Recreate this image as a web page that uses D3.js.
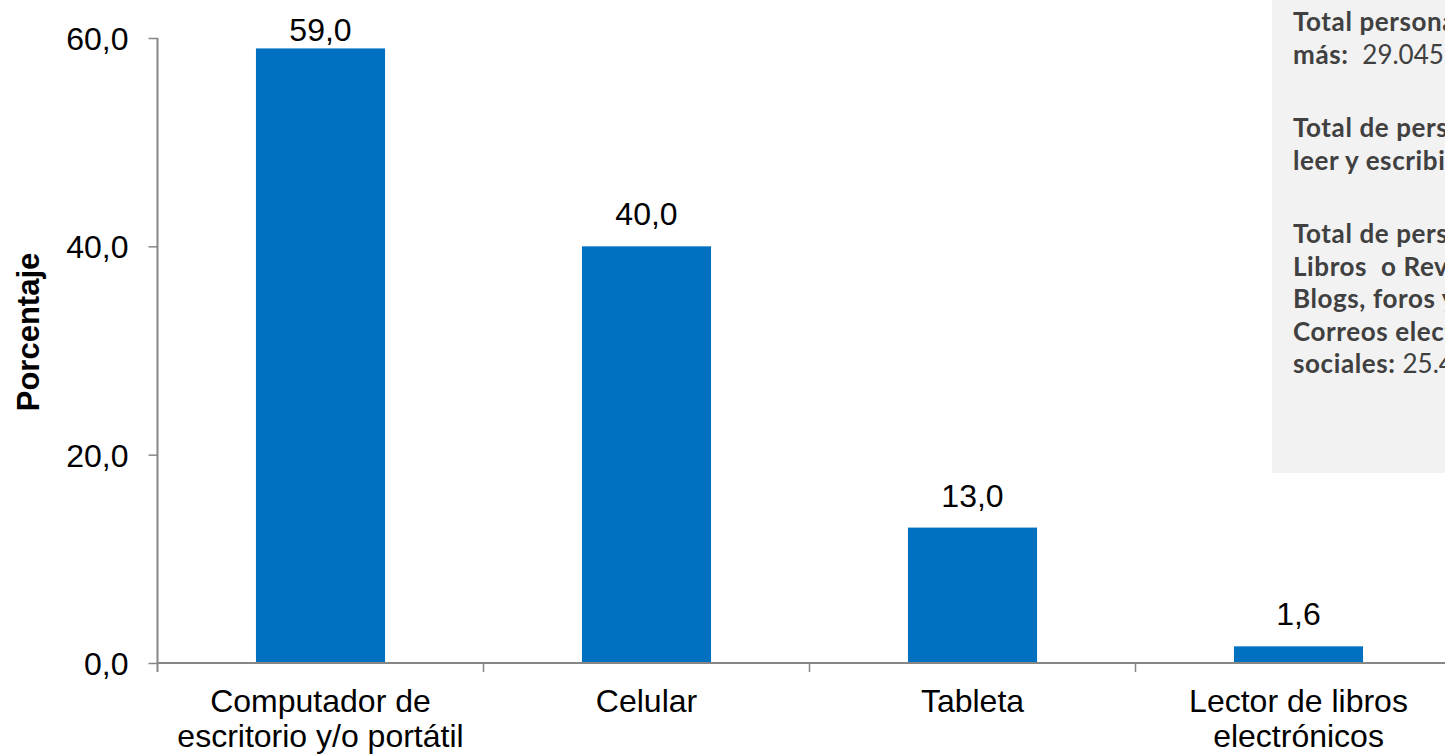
<!DOCTYPE html>
<html><head><meta charset="utf-8">
<script src="https://cdn.jsdelivr.net/npm/d3@7"></script>
<style>
html,body{margin:0;padding:0;background:#fff;overflow:hidden;}
svg{display:block;}
</style></head>
<body>
<script>
const categories = [["Computador de","escritorio y/o portátil"],["Celular"],["Tableta"],["Lector de libros","electrónicos"]];
const values = [59.0, 40.0, 13.0, 1.6];
const yTicks = [0, 20, 40, 60];
const yTitle = "Porcentaje";
const noteBlocks = [
  [[{b:"Total personas de 5 años y"}],[{b:"más:  "},{r:"29.045"}]],
  [[{b:"Total de personas que saben"}],[{b:"leer y escribir: "}]],
  [[{b:"Total de personas que leen"}],[{b:"Libros  o Revistas,"}],[{b:"Blogs, foros y"}],[{b:"Correos electrónicos o redes"}],[{b:"sociales: "},{r:"25.4"}]]
];

const W = 1445, H = 754;
const svg = d3.select("body").append("svg").attr("width", W).attr("height", H)
  .style("font-family", "'Liberation Sans', Arial, sans-serif");

const x0 = 157.5, step = 326;
const keys = categories.map(c => c.join(" "));
const x = d3.scaleBand().domain(keys).range([x0, x0 + step * keys.length]).paddingInner(0.604).paddingOuter(0.302);
const y = d3.scaleLinear().domain([0, 60]).range([663, 38]);
const fmt = v => d3.format(".1f")(v).replace(".", ",");
const axisColor = "#868686";
const fs = 32;

// note box
const box = svg.append("g");
box.append("rect").attr("x", 1272).attr("y", 0).attr("width", W - 1272).attr("height", 473).attr("fill", "#f2f2f2");
const noteFont = "Lato, 'Open Sans', sans-serif";
let baseY = 31;
const lh = 32.5, blockGap = 73.5;
noteBlocks.forEach((blk) => {
  blk.forEach((line, li) => {
    const t = box.append("text").attr("x", 1293).attr("y", baseY + li * lh).attr("font-family", noteFont)
      .attr("font-size", 26).attr("fill", "#404040").style("white-space", "pre");
    line.forEach(seg => {
      if (seg.b !== undefined) t.append("tspan").attr("font-weight", "bold").attr("letter-spacing", 0.6).text(seg.b);
      else t.append("tspan").attr("font-weight", "normal").text(seg.r);
    });
  });
  baseY += (blk.length - 1) * lh + blockGap;
});

// bars
svg.append("g").selectAll("rect").data(values).join("rect")
  .attr("x", (d, i) => x(keys[i]))
  .attr("y", d => y(d))
  .attr("width", x.bandwidth())
  .attr("height", d => y(0) - y(d))
  .attr("fill", "#0070c0");

// value labels
svg.append("g").selectAll("text").data(values).join("text")
  .attr("x", (d, i) => x(keys[i]) + x.bandwidth() / 2)
  .attr("y", d => Math.max(y(d) - 21, 41))
  .attr("text-anchor", "middle").attr("font-size", fs).attr("fill", "#000")
  .text(d => fmt(d));

// y axis
const yAxis = d3.axisLeft(y).tickValues(yTicks).tickFormat(fmt).tickSize(9).tickPadding(20);
const gy = svg.append("g").attr("transform", `translate(${x0},0)`).call(yAxis);
gy.select(".domain").remove();
gy.selectAll(".tick line").attr("stroke", axisColor).attr("stroke-width", 1.5);
gy.selectAll(".tick text").attr("font-size", fs).attr("fill", "#000")
  .attr("font-family", "'Liberation Sans', Arial, sans-serif").attr("dy", "0.36em");
svg.append("line").attr("x1", x0).attr("x2", x0).attr("y1", y(60)).attr("y2", y(0) + 9)
  .attr("stroke", axisColor).attr("stroke-width", 2);

// x axis
svg.append("line").attr("x1", x0).attr("x2", W).attr("y1", y(0)).attr("y2", y(0))
  .attr("stroke", axisColor).attr("stroke-width", 2);
const bounds = keys.map(k => x(k) + x.bandwidth() / 2 - x.step() / 2).slice(1);
svg.append("g").selectAll("line").data(bounds).join("line")
  .attr("x1", d => d).attr("x2", d => d).attr("y1", y(0)).attr("y2", y(0) + 9)
  .attr("stroke", axisColor).attr("stroke-width", 1.5);

// category labels
const cl = svg.append("g").selectAll("text").data(categories).join("text")
  .attr("x", (d, i) => x(keys[i]) + x.bandwidth() / 2)
  .attr("y", 712)
  .attr("text-anchor", "middle").attr("font-size", fs).attr("fill", "#000");
cl.selectAll("tspan").data(d => d).join("tspan")
  .attr("x", function () { return d3.select(this.parentNode).attr("x"); })
  .attr("dy", (d, i) => i === 0 ? 0 : 35)
  .text(d => d);

// y title
svg.append("text").attr("transform", "translate(39,332) rotate(-90)")
  .attr("text-anchor", "middle").attr("font-size", 31).attr("font-weight", "bold").attr("fill", "#000")
  .text(yTitle);
</script>
</body></html>
